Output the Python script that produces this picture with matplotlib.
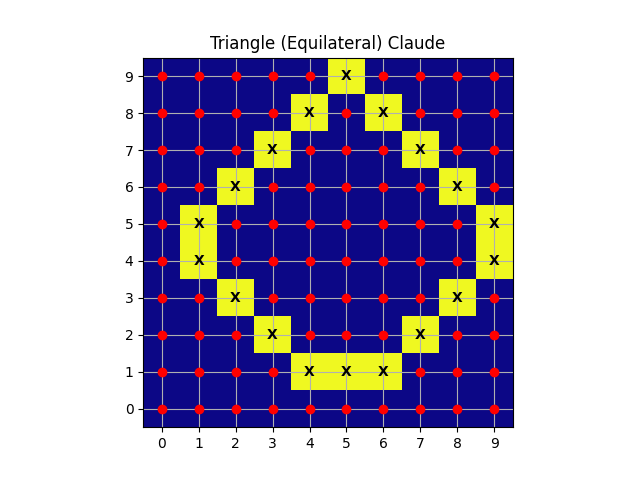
import matplotlib
matplotlib.use("Agg")
import matplotlib.pyplot as plt
import numpy as np

size = 10
# yellow (filled) cells as (x, y)
filled_x = [5, 4, 6, 3, 7, 2, 8, 1, 9, 1, 9, 2, 8, 3, 7, 4, 5, 6]
filled_y = [9, 8, 8, 7, 7, 6, 6, 5, 5, 4, 4, 3, 3, 2, 2, 1, 1, 1]

grid = np.zeros((size, size))
for x, y in zip(filled_x, filled_y):
    grid[y, x] = 1

fig, ax = plt.subplots(figsize=(6.4, 4.8), dpi=100)
ax.imshow(grid, cmap='plasma', origin='lower')

for y in range(size):
    for x in range(size):
        if grid[y, x] == 1:
            ax.text(x, y, 'X', ha='center', va='center', color='black',
                    fontweight='bold', fontsize=10)
        else:
            ax.plot(x, y, 'ro')

ax.set_xticks(range(size))
ax.set_yticks(range(size))
ax.grid(True)
ax.set_title('Triangle (Equilateral) Claude')

plt.savefig('out.png')
